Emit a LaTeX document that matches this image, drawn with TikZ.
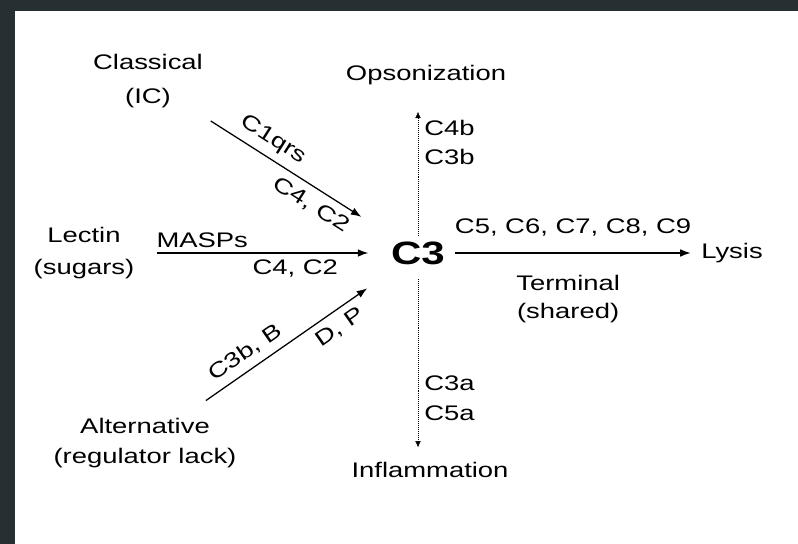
\documentclass[tikz,border=0pt]{standalone}
\usepackage{fontspec}
\setmainfont{Liberation Sans}[FakeStretch=1.3]
\usetikzlibrary{arrows.meta}
\definecolor{framegrey}{HTML}{263033}

\begin{document}
\begin{tikzpicture}[x=0.025cm, y=0.025cm,
	txt/.style={font=\fontsize{15}{22}\selectfont, align=center},
	pway/.style={line width=0.9pt, -{Latex[length=7.5pt, width=5.5pt]}},
	fate/.style={densely dotted, thin, -{Latex[length=4.5pt, width=4pt]}}]
	\fill[framegrey] (0,0) rectangle (798,544);
	\fill[white] (15,0) rectangle (798,533);
	\useasboundingbox (0,0) rectangle (798,544);
	% the three ways in, and C3 in the middle
	\node[font=\fontsize{23}{26}\selectfont\bfseries] (c3) at (418,291) {C3};
	\node[txt, font=\fontsize{15}{24}\selectfont] (classical) at (148,463) {Classical\\(IC)};
	\node[txt, font=\fontsize{15}{23}\selectfont] (lectin) at (84,291) {Lectin\\(sugars)};
	\node[txt, font=\fontsize{15}{21}\selectfont] (alternative) at (145,101) {Alternative\\(regulator lack)};
	% what comes out
	\node[txt] (opson) at (426,469) {Opsonization};
	\node[txt] (inflam) at (430,74) {Inflammation};
	\node[txt] (lysis) at (732,291) {Lysis};
	\draw[pway, shorten <=11pt, shorten >=26pt] (classical) -- (c3)
		node[txt, sloped, above=2pt, pos=0.34] {C1qrs}
		node[txt, sloped, below=2pt, pos=0.63] {C4, C2};
	\draw[pway, shorten <=12.7pt, shorten >=12.7pt] (lectin) -- (c3)
		node[txt, above=0pt, pos=0.255] {MASPs}
		node[txt, below=1pt, pos=0.632] {C4, C2};
	\draw[pway, shorten <=16pt, shorten >=23.5pt] (alternative) -- (c3)
		node[txt, sloped, above=2pt, pos=0.326] {C3b, B}
		node[txt, sloped, below=2pt, pos=0.69] {D, P};
	\draw[pway, shorten <=3.6pt, shorten >=4pt] (c3) -- (lysis)
		node[txt, above=8pt, pos=0.5] {C5, C6, C7, C8, C9}
		node[txt, below=12pt, pos=0.48, font=\fontsize{15}{20}\selectfont] {Terminal\\(shared)};
	\draw[fate, shorten <=1pt, shorten >=15.6pt] (c3.north) -- (c3.north |- opson.south)
		node[txt, right=1pt, pos=0.64, align=left, font=\fontsize{15}{21}\selectfont] {C4b\\C3b};
	\draw[fate, shorten <=7pt, shorten >=7pt] (c3.south) -- (c3.south |- inflam.north)
		node[txt, right=1pt, pos=0.686, align=left, font=\fontsize{15}{21}\selectfont] {C3a\\C5a};
\end{tikzpicture}
\end{document}
